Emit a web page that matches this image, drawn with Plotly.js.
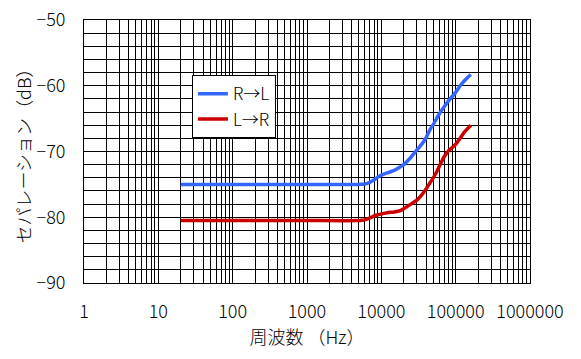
<!DOCTYPE html>
<html>
<head>
<meta charset="utf-8">
<script src="https://cdn.plot.ly/plotly-3.0.1.min.js"></script>
<style>html,body{margin:0;padding:0;background:#fff;}#chart{width:581px;height:359px;}</style>
</head>
<body>
<div id="chart"></div>
<script>
// Data
const seriesNames = ["R→L", "L→R"];
const freqRL = [20, 1000, 5000, 6000, 7000, 8000, 9000, 10000, 11000, 14000, 17000, 20000, 24000, 28000, 32000, 36000, 40000, 45000, 50000, 60000, 70000, 80000, 100000, 115000, 135000, 160000];
const sepRL  = [-75, -75, -75, -74.95, -74.7, -74.3, -73.9, -73.6, -73.4, -73.0, -72.5, -72.0, -71.1, -70.2, -69.4, -68.7, -67.9, -66.7, -65.9, -64.3, -63.2, -62.3, -61.0, -60.0, -59.1, -58.3];
const freqLR = [20, 1000, 5000, 6000, 7000, 8500, 10000, 12000, 15000, 18000, 20000, 25000, 30000, 35000, 40000, 45000, 50000, 55000, 60000, 70000, 80000, 90000, 100000, 115000, 130000, 145000, 160000];
const sepLR  = [-80.5, -80.5, -80.5, -80.4, -80.1, -79.7, -79.5, -79.3, -79.2, -79.0, -78.7, -78.0, -77.4, -76.6, -75.7, -74.8, -74.0, -73.2, -72.3, -70.8, -69.9, -69.4, -68.9, -68.0, -67.1, -66.5, -66.0];
const xTickVals = [1, 10, 100, 1000, 10000, 100000, 1000000];
const xTickText = ["1", "10", "100", "1000", "10000", "100000", "1000000"];
const yTickVals = [-90, -80, -70, -60, -50];
const yTickText = ["−90", "−80", "−70", "−60", "−50"];
const xTitle = "周波数 （Hz）";
const yTitle = "セパレーション（dB）";

const FONT = "'Noto Sans CJK JP', 'Noto Sans', sans-serif";
const FS = 18;

const traces = [
  {x: freqRL, y: sepRL, name: seriesNames[0], mode: "lines", line: {color: "#3366ff", width: 3.5, shape: "spline", smoothing: 0.6}},
  {x: freqLR, y: sepLR, name: seriesNames[1], mode: "lines", line: {color: "#cc0000", width: 3.5, shape: "spline", smoothing: 0.6}}
];

const layout = {
  width: 581, height: 359,
  margin: {l: 84, r: 51, t: 20, b: 76, pad: 0},
  paper_bgcolor: "#fff", plot_bgcolor: "#fff",
  font: {family: FONT, size: FS, color: "#000", weight: 300},
  showlegend: true,
  legend: {x: 0.242, y: 0.79, xanchor: "left", yanchor: "top", bgcolor: "#fff",
           bordercolor: "#000", borderwidth: 1, font: {family: FONT, size: 17, color: "#000", weight: 300},
           itemwidth: 30, tracegroupgap: 0},
  xaxis: {
    type: "log", range: [0, 6],
    tickvals: xTickVals, ticktext: xTickText,
    tickfont: {family: FONT, size: FS, weight: 300},
    showgrid: true, gridcolor: "#000", gridwidth: 1,
    minor: {dtick: "D1", showgrid: true, gridcolor: "#000", gridwidth: 1, ticks: ""},
    showline: true, linecolor: "#000", linewidth: 1, mirror: true,
    ticks: "", ticklabelstandoff: 12, zeroline: false,
    title: {text: xTitle, font: {family: FONT, size: FS, weight: 300}, standoff: 7}
  },
  yaxis: {
    range: [-90, -50],
    tickvals: yTickVals, ticktext: yTickText,
    tickfont: {family: FONT, size: FS, weight: 300},
    showgrid: true, gridcolor: "#000", gridwidth: 1,
    minor: {dtick: 2, showgrid: true, gridcolor: "#000", gridwidth: 1, ticks: ""},
    showline: true, linecolor: "#000", linewidth: 1, mirror: true,
    ticks: "", ticklabelstandoff: 14, zeroline: false,
    title: {text: yTitle, font: {family: FONT, size: FS, weight: 300}, standoff: 0}
  }
};

Plotly.newPlot("chart", traces, layout, {staticPlot: true, displayModeBar: false});
</script>
</body>
</html>
